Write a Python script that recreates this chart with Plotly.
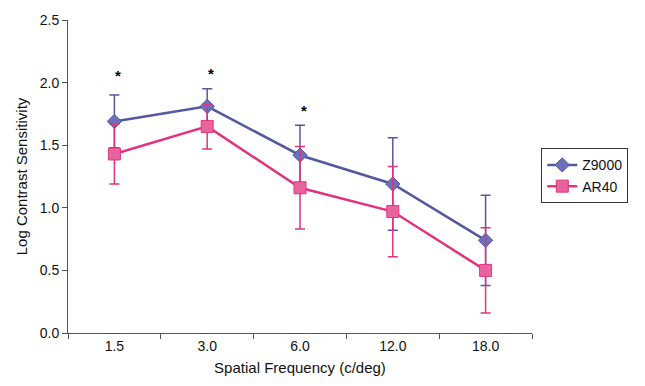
import plotly.graph_objects as go

freqs = ["1.5", "3.0", "6.0", "12.0", "18.0"]
z9000 = [1.69, 1.81, 1.42, 1.19, 0.74]
z9000_err = [0.21, 0.14, 0.24, 0.37, 0.36]
ar40 = [1.43, 1.65, 1.16, 0.97, 0.50]
ar40_err = [0.24, 0.18, 0.33, 0.36, 0.34]
sig_freqs = ["1.5", "3.0", "6.0"]
sig_y = [2.06, 2.07, 1.78]

blue = "#5558A0"
blue_fill = "#6C70B8"
pink = "#E2337E"
pink_fill = "#E8649F"

fig = go.Figure()
fig.add_trace(go.Scatter(
    x=freqs, y=z9000, name="Z9000", mode="lines+markers",
    line=dict(color=blue, width=2.5),
    marker=dict(symbol="diamond", size=11, color=blue_fill, line=dict(color=blue, width=1)),
    error_y=dict(type="data", array=z9000_err, color=blue, thickness=1.5, width=5),
))
fig.add_trace(go.Scatter(
    x=freqs, y=ar40, name="AR40", mode="lines+markers",
    line=dict(color=pink, width=2.5),
    marker=dict(symbol="square", size=12, color=pink_fill, line=dict(color=pink, width=1)),
    error_y=dict(type="data", array=ar40_err, color=pink, thickness=1.5, width=5),
))

for f, yv in zip(sig_freqs, sig_y):
    fig.add_annotation(x=freqs.index(f), y=yv, text="<b>*</b>", showarrow=False, xshift=4,
                       font=dict(size=15, color="black", family="Liberation Sans, Arial"))

fig.update_layout(
    width=645, height=386,
    margin=dict(l=68, r=113, t=17, b=53),
    paper_bgcolor="white", plot_bgcolor="white",
    font=dict(family="Liberation Sans, Arial", color="#111"),
    showlegend=True,
    legend=dict(x=1.02, y=0.59, xanchor="left", yanchor="top",
                bordercolor="#333", borderwidth=1, font=dict(size=14, color="#111"),
                tracegroupgap=0, itemwidth=30),
)
fig.update_xaxes(
    type="category", range=[-0.5, 4.5],
    showline=True, linecolor="#555", linewidth=1,
    ticks="outside", ticklen=5, tickcolor="#555", tickson="boundaries",
    showgrid=False, tickfont=dict(size=14, color="#111"),
    title=dict(text="Spatial Frequency (c/deg)", font=dict(size=15, color="#111"), standoff=9),
)
fig.update_yaxes(
    range=[0, 2.5], dtick=0.5, tickformat=".1f",
    showline=True, linecolor="#555", linewidth=1,
    ticks="outside", ticklen=5, tickcolor="#555",
    showgrid=False, zeroline=False, tickfont=dict(size=14, color="#111"),
    title=dict(text="Log Contrast Sensitivity", font=dict(size=15, color="#111"), standoff=8),
)

fig.write_html("out.html")
